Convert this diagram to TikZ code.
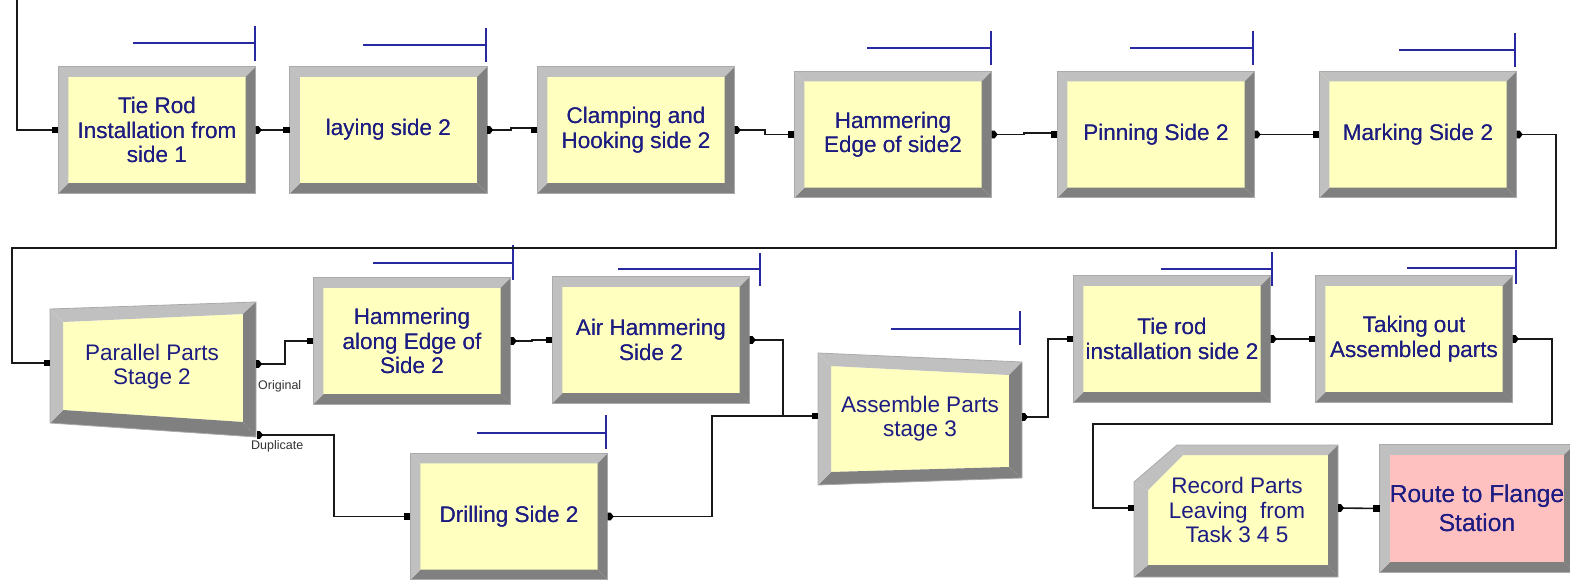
\documentclass[tikz,border=0pt]{standalone}
\usepackage{fontspec}
\setmainfont{Liberation Sans}
\usetikzlibrary{calc}

\definecolor{modfill}{RGB}{255,255,192}
\definecolor{routefill}{RGB}{255,192,192}
\definecolor{bevlite}{RGB}{192,192,192}
\definecolor{bevdark}{RGB}{128,128,128}
\definecolor{bevedge}{RGB}{170,170,170}
\definecolor{labelblue}{RGB}{28,28,130}
\definecolor{queueblue}{RGB}{40,40,160}

\newcommand\modfont{\fontsize{22.5}{24.5}\selectfont}
\newcommand\routefont{\fontsize{24.5}{29}\selectfont}

\tikzset{
  module/.style={rectangle, fill=modfill, minimum width=197pt, minimum height=126pt,
    inner sep=0pt, align=center, text=labelblue, font=\modfont},
  tag/.style={inner sep=0pt, align=center, text=labelblue, font=\modfont},
  link/.style={line width=1.6pt, black!90},
  queue/.style={queueblue, line width=1.4pt},
  portlabel/.style={font=\fontsize{12.5}{13}\selectfont, text=black!80, inner sep=0pt, anchor=north west},
}

% raised bevel around a rectangular module node
\newcommand\bevelnode[2][10pt]{%
  \fill[bevlite] (#2.north west) -- (#2.north east) -- ([xshift=-#1,yshift=-#1]#2.north east) -- ([xshift=#1,yshift=-#1]#2.north west) -- cycle;
  \fill[bevdark] (#2.north east) -- (#2.south east) -- ([xshift=-#1,yshift=#1]#2.south east) -- ([xshift=-#1,yshift=-#1]#2.north east) -- cycle;
  \fill[bevdark] (#2.south east) -- (#2.south west) -- ([xshift=#1,yshift=#1]#2.south west) -- ([xshift=-#1,yshift=#1]#2.south east) -- cycle;
  \fill[bevlite] (#2.south west) -- (#2.north west) -- ([xshift=#1,yshift=-#1]#2.north west) -- ([xshift=#1,yshift=#1]#2.south west) -- cycle;
  \draw[bevedge, line width=0.8pt] (#2.north west) rectangle (#2.south east);
}

% raised bevel around a four-sided shape: outer TL TR BR BL, inner TL TR BR BL
\newcommand\bevelquad[8]{%
  \fill[modfill] #5 -- #6 -- #7 -- #8 -- cycle;
  \fill[bevlite] #1 -- #2 -- #6 -- #5 -- cycle;
  \fill[bevdark] #2 -- #3 -- #7 -- #6 -- cycle;
  \fill[bevdark] #3 -- #4 -- #8 -- #7 -- cycle;
  \fill[bevlite] #4 -- #1 -- #5 -- #8 -- cycle;
  \draw[bevedge, line width=0.8pt] #1 -- #2 -- #3 -- #4 -- cycle;
}

% queue bar: x from, x to, y, tick top, tick bottom
\newcommand\queuebar[5]{\draw[queue] (#1,#3) -- (#2,#3) (#2,#4) -- (#2,#5);}

% entry and exit points of a module
\newcommand\inport[1]{\fill[black] ([xshift=-6.5pt,yshift=-3.3pt]#1) rectangle ([yshift=3.3pt]#1);}
\newcommand\outport[1]{\fill[black] ([yshift=3.8pt]#1) -- ([xshift=3pt,yshift=3.8pt]#1) -- ([xshift=6pt]#1) -- ([xshift=3pt,yshift=-3.8pt]#1) -- ([yshift=-3.8pt]#1) -- cycle;}

\begin{document}
\begin{tikzpicture}[x=1pt,y=-1pt]
\useasboundingbox (0,0) rectangle (1570,580);
\fill[white] (0,0) rectangle (1570,580);

% ---------- first row of processes ----------
\node[module] (tierod1) at (157,130) {Tie Rod\\Installation from\\side 1};
\node[module] (laying)  at (388.5,130) {laying side 2};
\node[module] (clamp)   at (636,130) {Clamping and\\Hooking side 2};
\node[module] (hamedge) at (893,134.5) {Hammering\\Edge of side2};
\node[module] (pin)     at (1156,134.5) {Pinning Side 2};
\node[module] (mark)    at (1418,134.5) {Marking Side 2};

% ---------- second row ----------
\node[module] (hamalong) at (412,341) {Hammering\\along Edge of\\Side 2};
\node[module] (airham)   at (651,340) {Air Hammering\\Side 2};
\node[module] (drill)    at (509,516.5) {Drilling Side 2};
\node[module] (tierod2)  at (1172,339) {Tie rod\\installation side 2};
\node[module] (takeout)  at (1414,339) {Taking out\\Assembled parts};
\node[module, fill=routefill, font=\routefont, minimum width=194pt, minimum height=127pt]
  (route) at (1477,508.5) {Route to Flange\\Station};

\foreach \m in {tierod1,laying,clamp,hamedge,pin,mark,hamalong,airham,drill,tierod2,takeout,route}
  {\bevelnode{\m}}
% redraw the labels over the bevels
\node[tag] at (tierod1) {Tie Rod\\Installation from\\side 1};
\node[tag] at (laying) {laying side 2};
\node[tag] at (clamp) {Clamping and\\Hooking side 2};
\node[tag] at (hamedge) {Hammering\\Edge of side2};
\node[tag] at (pin) {Pinning Side 2};
\node[tag] at (mark) {Marking Side 2};
\node[tag] at (hamalong) {Hammering\\along Edge of\\Side 2};
\node[tag] at (airham) {Air Hammering\\Side 2};
\node[tag] at (drill) {Drilling Side 2};
\node[tag] at (tierod2) {Tie rod\\installation side 2};
\node[tag] at (takeout) {Taking out\\Assembled parts};
\node[tag, font=\routefont] at (route) {Route to Flange\\Station};

% ---------- separate module ----------
\bevelquad{(50,309)}{(256,302)}{(256,437)}{(50,423)}{(63,322)}{(243,314)}{(243,422)}{(63,410)}
\node[tag] (sep) at (152,366.5) {Parallel Parts\\Stage 2};
\coordinate (sep-in)   at (50,363);
\coordinate (sep-orig) at (256,364);
\coordinate (sep-dup)  at (257,435);
\node[portlabel] (origlbl) at (258,380) {Original};
\node[portlabel] (duplbl)  at (251,440) {Duplicate};

% ---------- batch module ----------
\bevelquad{(818,353)}{(1022,362)}{(1022,478)}{(818,485)}{(831,366)}{(1009,375)}{(1009,467)}{(831,472)}
\node[tag] (batch) at (920,418.5) {Assemble Parts\\stage 3};
\coordinate (batch-in)  at (818,416);
\coordinate (batch-out) at (1022,417);

% ---------- record module (clipped corner) ----------
\fill[modfill] (1148,490) -- (1183,455) -- (1328,455) -- (1328,565) -- (1148,565) -- cycle;
\fill[bevlite] (1134,482) -- (1177,445) -- (1183,455) -- (1148,490) -- cycle;
\fill[bevlite] (1177,445) -- (1338,445) -- (1328,455) -- (1183,455) -- cycle;
\fill[bevdark] (1338,445) -- (1338,577) -- (1328,565) -- (1328,455) -- cycle;
\fill[bevdark] (1338,577) -- (1134,577) -- (1148,565) -- (1328,565) -- cycle;
\fill[bevlite] (1134,577) -- (1134,482) -- (1148,490) -- (1148,565) -- cycle;
\draw[bevedge, line width=0.8pt] (1134,482) -- (1177,445) -- (1338,445) -- (1338,577) -- (1134,577) -- cycle;
\node[tag] (rec) at (1237,510) {Record Parts\\Leaving\ \ from\\Task 3 4 5};
\coordinate (rec-in)  at (1134,508);
\coordinate (rec-out) at (1338,508);

% ---------- queue bars ----------
\queuebar{133}{255}{43}{26}{61}
\queuebar{363}{486}{45}{28}{62}
\queuebar{867}{991}{48}{31}{65}
\queuebar{1130}{1253}{48}{31}{65}
\queuebar{1399}{1515}{50}{33}{67}
\queuebar{373}{513}{263}{245}{280}
\queuebar{618}{760}{269}{253}{286}
\queuebar{891}{1020}{329}{311}{345}
\queuebar{1161}{1272}{269}{252}{286}
\queuebar{1407}{1516}{268}{250}{284}
\queuebar{477}{606}{433}{415}{449}

% ---------- connectors ----------
\coordinate (entry) at (17,0);
\draw[link] (entry) |- (tierod1.west);
\draw[link] (tierod1.east) -- (laying.west);
\draw[link] (laying.east) -- ++(24,0) -- ++(0,-2) -- ([yshift=2pt]clamp.west);
\draw[link] (clamp.east) -- ++(30,0) |- (hamedge.west);
\draw[link] (hamedge.east) -- ++(32,0) -- ++(0,-1.5) -- ([yshift=1.5pt]pin.west);
\draw[link] (pin.east) -- (mark.west);
\draw[link] (mark.east) -- ++(39,0) |- (12,248) |- (sep-in);
\draw[link] (sep-orig) -- ++(29,0) |- (hamalong.west);
\draw[link] (hamalong.east) -- ++(21,0) |- (airham.west);
\draw[link] (airham.east) -- ++(33,0) |- (batch-in);
\draw[link] (sep-dup) -- ++(77,0) |- (drill.west);
\draw[link] (drill.east) -- ++(104,0) |- (batch-in);
\draw[link] (batch-out) -- ++(26,0) |- (tierod2.west);
\draw[link] (tierod2.east) -- (takeout.west);
\draw[link] (takeout.east) -- ++(39,0) |- (1093,424) |- (rec-in);
\draw[link] (rec-out) -- (route.west);

% ---------- ports ----------
\foreach \m in {tierod1,laying,clamp,hamedge,pin,mark,hamalong,airham,drill,tierod2,takeout}
  {\inport{\m.west}\outport{\m.east}}
\inport{route.west}
\inport{sep-in}\outport{sep-orig}\outport{sep-dup}
\inport{batch-in}\outport{batch-out}
\inport{rec-in}\outport{rec-out}
\end{tikzpicture}
\end{document}
